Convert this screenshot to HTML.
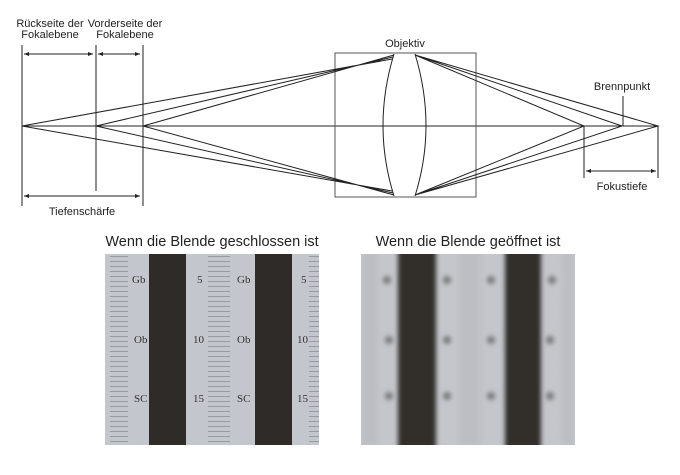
<!DOCTYPE html>
<html><head><style>
body{margin:0;background:#fff;width:680px;height:470px;overflow:hidden;font-family:"Liberation Sans",sans-serif}
</style></head><body>
<svg width="680" height="470" xmlns="http://www.w3.org/2000/svg" font-family="Liberation Sans, sans-serif">
<defs>
<marker id="a" markerWidth="6" markerHeight="6" refX="5" refY="3" orient="auto-start-reverse"><path d="M0,1 L5,3 L0,5z" fill="#222"/></marker>
<clipPath id="c2"><rect x="361" y="254" width="214" height="191"/></clipPath>
<filter id="bl" x="-20%" y="-20%" width="140%" height="140%"><feGaussianBlur stdDeviation="2.5"/></filter>
</defs>
<g stroke="#222" stroke-width="1" fill="none">
<line x1="22" y1="126" x2="658" y2="126"/>
<rect x="335" y="53" width="141" height="144" stroke="#555"/>
<path d="M394,54 Q372,126 394,196"/>
<path d="M415,54 Q437,126 415,196"/>
<path d="M22,126 L392,59 M96,126 L393,57 M143,126 L394,55"/>
<path d="M22,126 L392,191 M96,126 L393,193 M143,126 L394,195"/>
<path d="M415,55 L584,126 L415,195 M415,55 L622,126 L415,195 M415,55 L658,126 L415,195"/>
<line x1="22" y1="45" x2="22" y2="206"/>
<line x1="96" y1="45" x2="96" y2="191"/>
<line x1="143" y1="45" x2="143" y2="206"/>
<line x1="584" y1="126" x2="584" y2="178"/>
<line x1="658" y1="126" x2="658" y2="178"/>
<line x1="623" y1="126" x2="623" y2="96"/>
<line x1="24" y1="54" x2="93" y2="54" marker-start="url(#a)" marker-end="url(#a)"/>
<line x1="98" y1="54" x2="140" y2="54" marker-start="url(#a)" marker-end="url(#a)"/>
<line x1="24" y1="196" x2="140" y2="196" marker-start="url(#a)" marker-end="url(#a)"/>
<line x1="586" y1="171" x2="656" y2="171" marker-start="url(#a)" marker-end="url(#a)"/>
</g>
<g font-size="11" fill="#222" text-anchor="middle">
<text x="50" y="27">Rückseite der</text><text x="50" y="38">Fokalebene</text>
<text x="125" y="27">Vorderseite der</text><text x="125" y="38">Fokalebene</text>
<text x="82" y="215">Tiefenschärfe</text>
<text x="405" y="47">Objektiv</text>
<text x="622" y="90">Brennpunkt</text>
<text x="622" y="190">Fokustiefe</text>
</g>
<g font-size="14.5" fill="#222" text-anchor="middle">
<text x="212" y="246">Wenn die Blende geschlossen ist</text>
<text x="468" y="246">Wenn die Blende geöffnet ist</text>
</g>
<rect x="105" y="254" width="214" height="191" fill="#c3c6cc"/>
<g stroke="#989ba2" stroke-dasharray="1 4">
<line x1="119" y1="256" x2="119" y2="445" stroke-width="18"/>
<line x1="219" y1="256" x2="219" y2="445" stroke-width="22"/>
<line x1="314" y1="256" x2="314" y2="445" stroke-width="10"/>
</g>
<rect x="149" y="254" width="37" height="191" fill="#2e2b28"/>
<rect x="255" y="254" width="37" height="191" fill="#2e2b28"/>
<g fill="#333" font-size="11" font-family="Liberation Serif, serif">
<text x="197" y="283">5</text><text x="193" y="343">10</text><text x="193" y="402">15</text>
<text x="301" y="283">5</text><text x="297" y="343">10</text><text x="297" y="402">15</text>
<text x="132" y="283">Gb</text><text x="134" y="343">Ob</text><text x="134" y="402">SC</text>
<text x="237" y="283">Gb</text><text x="237" y="343">Ob</text><text x="237" y="402">SC</text>
</g>
<g clip-path="url(#c2)">
<rect x="361" y="254" width="214" height="191" fill="#c4c6cb"/>
<g filter="url(#bl)">
<g stroke="#a5a7ad" stroke-dasharray="1.2 3.8">
<line x1="370" y1="254" x2="370" y2="445" stroke-width="16"/>
<line x1="470" y1="254" x2="470" y2="445" stroke-width="22"/>
<line x1="568" y1="254" x2="568" y2="445" stroke-width="12"/>
</g>
<rect x="398" y="240" width="38" height="220" fill="#302d2a"/>
<rect x="505" y="240" width="36" height="220" fill="#302d2a"/>
<g fill="#777"><circle cx="387" cy="280" r="4"/><circle cx="389" cy="340" r="4"/><circle cx="389" cy="396" r="4"/>
<circle cx="447" cy="280" r="4"/><circle cx="447" cy="340" r="4"/><circle cx="447" cy="396" r="4"/>
<circle cx="491" cy="280" r="4"/><circle cx="491" cy="340" r="4"/><circle cx="491" cy="396" r="4"/>
<circle cx="552" cy="280" r="4"/><circle cx="550" cy="340" r="4"/><circle cx="550" cy="396" r="4"/></g>
</g>
</g>
</svg>
</body></html>
